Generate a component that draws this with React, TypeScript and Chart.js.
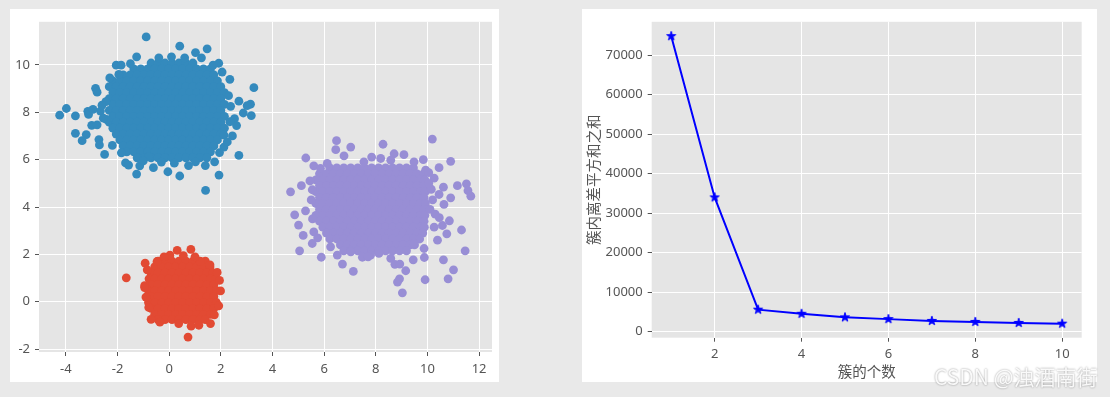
import React, { useEffect, useRef } from "react";
import { Chart, registerables } from "chart.js";

Chart.register(...registerables);

// ---------------- Data: scatter clusters (rows of the dense cores + scattered edge points) ----------------
const blueCoreRows: [number, number[]][] = [
  [10.08, [-0.70, -0.43, -0.16, 0.11, 0.38, 0.65, 0.92]],
  [9.83, [-1.37, -1.10, -0.83, -0.56, -0.29, -0.02, 0.25, 0.52, 0.79, 1.06, 1.33, 1.60]],
  [9.58, [-1.78, -1.51, -1.24, -0.97, -0.70, -0.43, -0.16, 0.11, 0.38, 0.65, 0.92, 1.19, 1.46, 1.73]],
  [9.33, [-2.18, -1.91, -1.64, -1.37, -1.10, -0.83, -0.56, -0.29, -0.02, 0.25, 0.52, 0.79, 1.06, 1.33, 1.60, 1.87]],
  [9.08, [-2.32, -2.05, -1.78, -1.51, -1.24, -0.97, -0.70, -0.43, -0.16, 0.11, 0.38, 0.65, 0.92, 1.19, 1.46, 1.73, 2.00]],
  [8.83, [-2.18, -1.91, -1.64, -1.37, -1.10, -0.83, -0.56, -0.29, -0.02, 0.25, 0.52, 0.79, 1.06, 1.33, 1.60, 1.87, 2.14]],
  [8.58, [-2.32, -2.05, -1.78, -1.51, -1.24, -0.97, -0.70, -0.43, -0.16, 0.11, 0.38, 0.65, 0.92, 1.19, 1.46, 1.73, 2.00]],
  [8.33, [-2.18, -1.91, -1.64, -1.37, -1.10, -0.83, -0.56, -0.29, -0.02, 0.25, 0.52, 0.79, 1.06, 1.33, 1.60, 1.87, 2.14]],
  [8.08, [-2.32, -2.05, -1.78, -1.51, -1.24, -0.97, -0.70, -0.43, -0.16, 0.11, 0.38, 0.65, 0.92, 1.19, 1.46, 1.73, 2.00]],
  [7.83, [-2.18, -1.91, -1.64, -1.37, -1.10, -0.83, -0.56, -0.29, -0.02, 0.25, 0.52, 0.79, 1.06, 1.33, 1.60, 1.87, 2.14]],
  [7.58, [-2.32, -2.05, -1.78, -1.51, -1.24, -0.97, -0.70, -0.43, -0.16, 0.11, 0.38, 0.65, 0.92, 1.19, 1.46, 1.73, 2.00]],
  [7.33, [-2.18, -1.91, -1.64, -1.37, -1.10, -0.83, -0.56, -0.29, -0.02, 0.25, 0.52, 0.79, 1.06, 1.33, 1.60, 1.87, 2.14]],
  [7.08, [-2.05, -1.78, -1.51, -1.24, -0.97, -0.70, -0.43, -0.16, 0.11, 0.38, 0.65, 0.92, 1.19, 1.46, 1.73, 2.00]],
  [6.83, [-1.91, -1.64, -1.37, -1.10, -0.83, -0.56, -0.29, -0.02, 0.25, 0.52, 0.79, 1.06, 1.33, 1.60, 1.87]],
  [6.58, [-1.78, -1.51, -1.24, -0.97, -0.70, -0.43, -0.16, 0.11, 0.38, 0.65, 0.92, 1.19, 1.46, 1.73]],
  [6.33, [-1.64, -1.37, -1.10, -0.83, -0.56, -0.29, -0.02, 0.25, 0.52, 0.79, 1.06, 1.33, 1.60]],
  [6.08, [-1.24, -0.97, -0.70, -0.43, -0.16, 0.11, 0.38, 0.65, 0.92, 1.19, 1.46]],
];

const blueEdgePoints: [number, number][] = [
  [-0.89, 11.18], [0.41, 10.79], [1.47, 10.68], [1.02, 10.52], [-1.26, 10.34], [0.09, 10.34],
  [-2.05, 9.99], [-1.86, 9.99], [1.92, 10.07], [1.70, 9.99], [2.35, 9.39], [3.28, 9.04],
  [-2.85, 9.01], [-2.79, 8.85], [-3.98, 8.16], [-4.24, 7.88], [-3.63, 7.85], [-3.15, 8.04],
  [-3.12, 7.91], [-2.95, 8.12], [3.15, 8.34], [3.02, 8.28], [2.70, 8.47], [3.18, 7.86],
  [2.87, 7.97], [2.53, 7.73], [2.61, 7.44], [2.45, 7.00], [2.12, 7.04], [-3.63, 7.11],
  [-3.21, 7.06], [-3.37, 6.80], [-2.72, 6.85], [-2.70, 6.62], [-2.50, 6.22], [-3.00, 7.45],
  [-2.79, 7.47], [-2.66, 8.05], [-2.43, 7.70], [2.70, 6.18], [2.12, 6.53], [1.93, 5.35],
  [1.41, 4.70], [0.41, 5.31], [-0.05, 5.49], [-0.61, 5.66], [-1.14, 5.74], [-1.26, 5.39],
  [-1.69, 5.86], [-1.57, 5.77], [-1.85, 6.29], [-0.79, 6.12], [1.76, 5.91], [1.02, 5.91],
  [2.38, 8.25], [-2.45, 8.45], [-2.55, 7.75], [-2.60, 8.30], [2.30, 8.70], [2.35, 7.60],
  [2.25, 6.75], [-2.20, 6.60], [-1.95, 9.60], [1.25, 10.30], [-0.40, 10.30], [0.60, 10.30],
  [-1.50, 10.05], [0.20, 5.85], [-0.30, 5.90], [0.75, 5.75], [1.40, 5.75], [-1.00, 5.95],
  [-2.30, 9.45], [2.05, 9.70], [1.95, 6.30],
];

const redCoreRows: [number, number[]][] = [
  [1.72, [-0.43, -0.16, 0.11, 0.38, 0.65, 0.92, 1.19, 1.40]],
  [1.47, [-0.56, -0.29, -0.02, 0.25, 0.52, 0.79, 1.06, 1.33, 1.58]],
  [1.22, [-0.70, -0.43, -0.16, 0.11, 0.38, 0.65, 0.92, 1.19, 1.46, 1.70]],
  [0.97, [-0.78, -0.56, -0.29, -0.02, 0.25, 0.52, 0.79, 1.06, 1.33, 1.60, 1.80]],
  [0.72, [-0.70, -0.43, -0.16, 0.11, 0.38, 0.65, 0.92, 1.19, 1.46, 1.73]],
  [0.47, [-0.80, -0.56, -0.29, -0.02, 0.25, 0.52, 0.79, 1.06, 1.33, 1.60, 1.83]],
  [0.22, [-0.70, -0.43, -0.16, 0.11, 0.38, 0.65, 0.92, 1.19, 1.46, 1.73]],
  [-0.03, [-0.80, -0.56, -0.29, -0.02, 0.25, 0.52, 0.79, 1.06, 1.33, 1.60, 1.83]],
  [-0.28, [-0.70, -0.43, -0.16, 0.11, 0.38, 0.65, 0.92, 1.19, 1.46, 1.73]],
  [-0.53, [-0.56, -0.29, -0.02, 0.25, 0.52, 0.79, 1.06, 1.33, 1.60]],
  [-0.75, [-0.43, -0.16, 0.11, 0.38, 0.65, 0.92, 1.19, 1.40]],
];

const redEdgePoints: [number, number][] = [
  [-1.66, 1.01], [0.73, -1.49], [0.31, 2.17], [0.84, 2.21], [0.03, 1.97], [-0.93, 1.63],
  [1.86, 1.24], [1.58, 1.56], [1.21, 1.70], [-0.47, 1.70], [-0.85, 1.35], [-0.70, -0.74],
  [-0.36, -0.86], [1.60, -0.92], [0.85, -1.03], [1.15, -0.99], [0.37, -0.92], [-0.95, 0.68],
  [-0.95, 0.60], [-0.79, -0.24], [1.92, -0.17], [1.99, 0.46], [0.55, 1.95], [1.00, 1.90],
  [-0.20, 1.90], [1.95, 0.90], [-0.90, 0.20], [1.75, -0.55],
];

const purpleCoreRows: [number, number[]][] = [
  [5.65, [6.22, 6.49, 6.76, 7.03, 7.30, 7.57, 7.84, 8.11, 8.38, 8.65, 8.92, 9.19, 9.46]],
  [5.40, [5.82, 6.09, 6.36, 6.63, 6.90, 7.17, 7.44, 7.71, 7.98, 8.25, 8.52, 8.79, 9.06, 9.33, 9.60, 9.85]],
  [5.15, [5.68, 5.95, 6.22, 6.49, 6.76, 7.03, 7.30, 7.57, 7.84, 8.11, 8.38, 8.65, 8.92, 9.19, 9.46, 9.73, 9.90]],
  [4.90, [5.82, 6.09, 6.36, 6.63, 6.90, 7.17, 7.44, 7.71, 7.98, 8.25, 8.52, 8.79, 9.06, 9.33, 9.60, 9.87]],
  [4.65, [5.68, 5.95, 6.22, 6.49, 6.76, 7.03, 7.30, 7.57, 7.84, 8.11, 8.38, 8.65, 8.92, 9.19, 9.46, 9.73, 9.92]],
  [4.40, [5.82, 6.09, 6.36, 6.63, 6.90, 7.17, 7.44, 7.71, 7.98, 8.25, 8.52, 8.79, 9.06, 9.33, 9.60, 9.87]],
  [4.15, [5.68, 5.95, 6.22, 6.49, 6.76, 7.03, 7.30, 7.57, 7.84, 8.11, 8.38, 8.65, 8.92, 9.19, 9.46, 9.73, 9.92]],
  [3.90, [5.82, 6.09, 6.36, 6.63, 6.90, 7.17, 7.44, 7.71, 7.98, 8.25, 8.52, 8.79, 9.06, 9.33, 9.60, 9.87]],
  [3.65, [5.68, 5.95, 6.22, 6.49, 6.76, 7.03, 7.30, 7.57, 7.84, 8.11, 8.38, 8.65, 8.92, 9.19, 9.46, 9.73, 9.90]],
  [3.40, [5.82, 6.09, 6.36, 6.63, 6.90, 7.17, 7.44, 7.71, 7.98, 8.25, 8.52, 8.79, 9.06, 9.33, 9.60, 9.87]],
  [3.15, [5.95, 6.22, 6.49, 6.76, 7.03, 7.30, 7.57, 7.84, 8.11, 8.38, 8.65, 8.92, 9.19, 9.46, 9.73, 9.88]],
  [2.90, [6.09, 6.36, 6.63, 6.90, 7.17, 7.44, 7.71, 7.98, 8.25, 8.52, 8.79, 9.06, 9.33, 9.60, 9.82]],
  [2.65, [6.22, 6.49, 6.76, 7.03, 7.30, 7.57, 7.84, 8.11, 8.38, 8.65, 8.92, 9.19, 9.46, 9.70]],
  [2.40, [6.63, 6.90, 7.17, 7.44, 7.71, 7.98, 8.25, 8.52, 8.79, 9.06, 9.33, 9.50]],
  [2.15, [6.76, 7.03, 7.30, 7.57, 7.84, 8.11, 8.38, 8.65, 8.92, 9.19]],
];

const purpleEdgePoints: [number, number][] = [
  [10.19, 6.87], [6.48, 6.80], [6.45, 6.42], [7.03, 6.53], [8.28, 6.65], [6.77, 6.16],
  [5.29, 6.07], [7.84, 6.11], [8.71, 6.25], [9.09, 6.21], [9.84, 6.00], [10.90, 5.93],
  [9.93, 5.56], [10.45, 5.66], [10.26, 5.22], [10.62, 4.84], [11.16, 4.90], [11.51, 4.98],
  [11.57, 4.69], [11.68, 4.46], [10.90, 4.39], [10.64, 4.11], [10.45, 4.53], [4.70, 4.64],
  [5.12, 4.90], [5.54, 4.73], [4.86, 3.67], [5.28, 3.84], [5.01, 3.24], [5.19, 2.80],
  [5.54, 2.46], [5.05, 2.15], [5.89, 1.88], [6.71, 1.59], [7.13, 1.28], [8.58, 1.83],
  [8.74, 1.58], [8.93, 1.59], [9.16, 1.31], [8.92, 0.97], [8.84, 0.83], [9.03, 0.38],
  [9.45, 1.77], [9.88, 1.87], [9.91, 0.93], [10.62, 1.77], [11.01, 1.35], [10.80, 0.97],
  [11.32, 3.03], [11.46, 2.15], [10.75, 2.87], [10.46, 3.55], [10.85, 3.42], [10.58, 3.22],
  [10.26, 3.15], [10.39, 2.60], [9.87, 2.25], [9.48, 2.46], [7.80, 1.97], [7.48, 1.88],
  [8.12, 2.04], [7.70, 1.90], [6.51, 1.97], [6.25, 2.32], [7.03, 2.11], [5.60, 5.74],
  [5.86, 5.63], [8.19, 6.05], [8.58, 5.98], [7.54, 5.91], [9.48, 5.91], [6.12, 5.84],
  [10.15, 4.75], [10.20, 4.30], [10.10, 3.90], [10.05, 5.00], [10.30, 3.70], [10.05, 5.45],
  [5.50, 4.30], [5.55, 3.50], [5.45, 5.10], [5.60, 2.95], [5.75, 2.70],
];

const scatterXTicks = [-4, -2, 0, 2, 4, 6, 8, 10, 12];
const scatterYTicks = [-2, 0, 2, 4, 6, 8, 10];

// ---------------- Data: elbow curve ----------------
const clusterCounts = [1, 2, 3, 4, 5, 6, 7, 8, 9, 10];
const sseValues = [74800, 34000, 5600, 4550, 3650, 3200, 2750, 2500, 2250, 2050];
const elbowXTicks = [2, 4, 6, 8, 10];
const elbowYTicks = [0, 10000, 20000, 30000, 40000, 50000, 60000, 70000];

const COLORS = { red: "#E24A33", blue: "#348ABD", purple: "#988ED5", line: "#0000FF" };
const TEXT = "#555555";
const FACE = "#E5E5E5";
const FONT = "'Noto Sans', 'Noto Sans CJK SC', 'DejaVu Sans', sans-serif";
const CJK = "'Noto Sans CJK SC', 'Noto Sans', sans-serif";

function toPoints(rows: [number, number[]][], edges: [number, number][]) {
  const pts: { x: number; y: number }[] = [];
  rows.forEach(([y, xs]) => xs.forEach((x) => pts.push({ x, y })));
  edges.forEach(([x, y]) => pts.push({ x, y }));
  return pts;
}

const facePlugin = {
  id: "facePlugin",
  beforeDraw(chart: any) {
    const { ctx, chartArea } = chart;
    ctx.save();
    ctx.fillStyle = FACE;
    ctx.fillRect(chartArea.left, chartArea.top, chartArea.right - chartArea.left, chartArea.bottom - chartArea.top);
    ctx.restore();
  },
};

function makeStar(color: string, outer: number): HTMLCanvasElement {
  const size = Math.ceil(outer * 2 + 4);
  const c = document.createElement("canvas");
  c.width = size;
  c.height = size;
  const ctx = c.getContext("2d")!;
  const cx = size / 2;
  const cy = size / 2;
  const inner = outer * 0.382;
  ctx.beginPath();
  for (let i = 0; i < 10; i++) {
    const r = i % 2 === 0 ? outer : inner;
    const a = -Math.PI / 2 + (i * Math.PI) / 5;
    const px = cx + r * Math.cos(a);
    const py = cy + r * Math.sin(a);
    if (i === 0) ctx.moveTo(px, py);
    else ctx.lineTo(px, py);
  }
  ctx.closePath();
  ctx.fillStyle = color;
  ctx.fill();
  ctx.strokeStyle = color;
  ctx.lineWidth = 1;
  ctx.stroke();
  return c;
}

function axis(ticks: number[], min: number, max: number, fit: (s: any) => void, extra: any = {}) {
  return {
    type: "linear",
    min,
    max,
    afterBuildTicks: (s: any) => {
      s.ticks = ticks.map((v) => ({ value: v }));
    },
    afterFit: fit,
    grid: { color: "#FFFFFF", lineWidth: 1, tickColor: TEXT, tickLength: 4, drawTicks: true },
    border: { display: false },
    ticks: {
      color: TEXT,
      font: { family: FONT, size: 13 },
      padding: 5,
      maxRotation: 0,
      autoSkip: false,
      callback: (v: any) => String(v),
    },
    ...extra,
  };
}

export default function App() {
  const leftRef = useRef<HTMLCanvasElement>(null);
  const rightRef = useRef<HTMLCanvasElement>(null);

  useEffect(() => {
    const left = new Chart(leftRef.current!, {
      type: "scatter",
      data: {
        datasets: [
          { data: toPoints(redCoreRows, redEdgePoints), backgroundColor: COLORS.red },
          { data: toPoints(blueCoreRows, blueEdgePoints), backgroundColor: COLORS.blue },
          { data: toPoints(purpleCoreRows, purpleEdgePoints), backgroundColor: COLORS.purple },
        ].map((d) => ({ ...d, pointRadius: 4.4, pointBorderWidth: 0, borderWidth: 0, pointHoverRadius: 4.4 })),
      },
      options: {
        animation: false,
        responsive: false,
        devicePixelRatio: 1,
        events: [],
        layout: { padding: { left: 0, right: 7, top: 6, bottom: 0 } },
        plugins: { legend: { display: false }, tooltip: { enabled: false } },
        scales: {
          x: axis(scatterXTicks, -5.04, 12.5, (s: any) => { s.height = 30; }),
          y: axis(scatterYTicks, -2.12, 11.82, (s: any) => { s.width = 29; }),
        },
      } as any,
      plugins: [facePlugin],
    });

    const star = makeStar(COLORS.line, 4.8);
    const right = new Chart(rightRef.current!, {
      type: "scatter",
      data: {
        datasets: [
          {
            data: clusterCounts.map((k, i) => ({ x: k, y: sseValues[i] })),
            showLine: true,
            borderColor: COLORS.line,
            borderWidth: 2,
            backgroundColor: COLORS.line,
            pointStyle: star as any,
            pointRadius: 5,
            tension: 0,
          },
        ],
      },
      options: {
        animation: false,
        responsive: false,
        devicePixelRatio: 1,
        events: [],
        layout: { padding: { left: 0, right: 15.3, top: 9.3, bottom: 0 } },
        plugins: { legend: { display: false }, tooltip: { enabled: false } },
        scales: {
          x: axis(elbowXTicks, 0.55, 10.45, (s: any) => { s.height = 44.3; }, {
            title: { display: true, text: "簇的个数", color: TEXT, font: { family: CJK, size: 14.5 }, padding: { top: 0, bottom: 1.5 } },
          }),
          y: axis(elbowYTicks, -1500, 78430, (s: any) => { s.width = 69.7; }, {
            title: { display: true, text: "簇内离差平方和之和", color: TEXT, font: { family: CJK, size: 14.5 }, padding: { top: 3, bottom: 0 } },
          }),
        },
      } as any,
      plugins: [facePlugin],
    });

    return () => {
      left.destroy();
      right.destroy();
    };
  }, []);

  return (
    <div style={{ position: "fixed", left: 0, top: 0, width: 1110, height: 397, background: "#E9E9E9", overflow: "hidden" }}>
      <canvas ref={leftRef} width={489} height={373} style={{ position: "absolute", left: 10, top: 9, width: 489, height: 373, background: "#FFFFFF" }} />
      <canvas ref={rightRef} width={515} height={373} style={{ position: "absolute", left: 582, top: 9, width: 515, height: 373, background: "#FFFFFF" }} />
      <div
        style={{
          position: "absolute",
          left: 934,
          top: 363,
          fontFamily: CJK,
          fontSize: 21,
          lineHeight: "27px",
          color: "rgba(255,255,255,0.92)",
          textShadow: "0 0 2px rgba(0,0,0,0.45)",
          whiteSpace: "nowrap",
        }}
      >
        CSDN @浊酒南街
      </div>
    </div>
  );
}
